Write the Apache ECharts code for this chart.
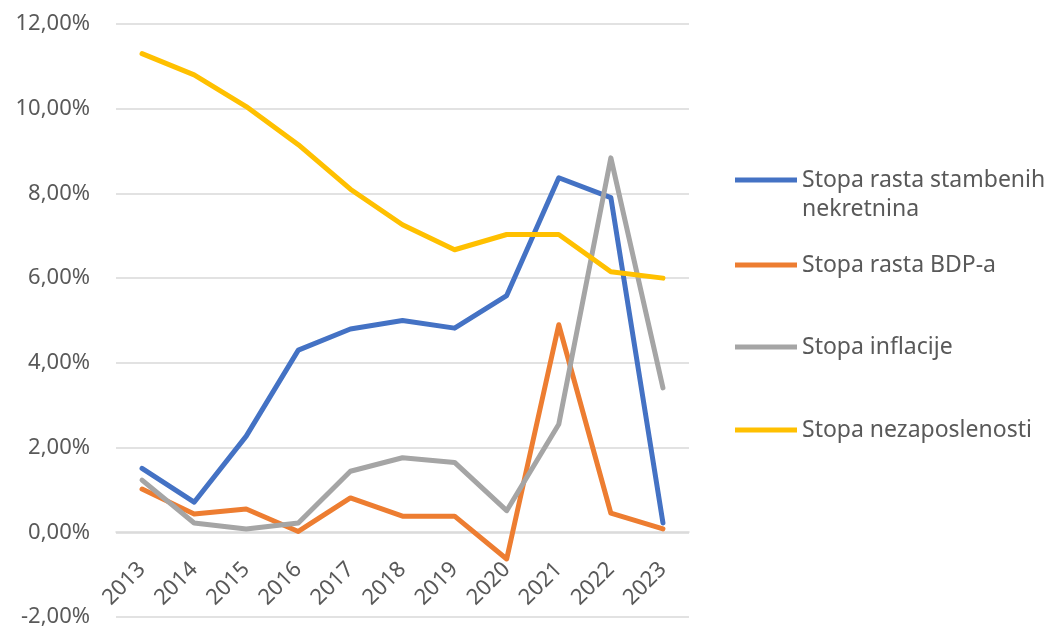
<!DOCTYPE html>
<html>
<head>
<meta charset="utf-8">
<script src="https://cdn.jsdelivr.net/npm/echarts@6/dist/echarts.min.js"></script>
<style>html,body{margin:0;padding:0;background:#fff;}#c{width:1054px;height:629px;}</style>
</head>
<body>
<div id="c"></div>
<script>
var years = ['2013','2014','2015','2016','2017','2018','2019','2020','2021','2022','2023'];
var stambene = [1.51, 0.71, 2.27, 4.30, 4.80, 5.00, 4.82, 5.59, 8.37, 7.90, 0.22];
var bdp = [1.02, 0.43, 0.55, 0.02, 0.81, 0.38, 0.38, -0.63, 4.90, 0.45, 0.08];
var inflacija = [1.23, 0.22, 0.08, 0.22, 1.44, 1.76, 1.65, 0.51, 2.55, 8.84, 3.41];
var nezaposlenost = [11.30, 10.80, 10.05, 9.15, 8.10, 7.26, 6.67, 7.03, 7.03, 6.15, 6.00];
var names = ['Stopa rasta stambenih nekretnina', 'Stopa rasta BDP-a', 'Stopa inflacije', 'Stopa nezaposlenosti'];
var legendLabels = ['Stopa rasta stambenih', 'Stopa rasta BDP-a', 'Stopa inflacije', 'Stopa nezaposlenosti'];
var colors = ['#4472C4', '#ED7D31', '#A5A5A5', '#FFC000'];

var FONT = 'Noto Sans';
var TXT = '#595959';
var chart = echarts.init(document.getElementById('c'));
var legendCenters = [180, 265, 347, 430];
var legends = names.map(function (n, i) {
  return {
    data: [n],
    left: 735,
    top: legendCenters[i] - 12,
    padding: 0,
    itemWidth: 62,
    itemHeight: 5,
    itemGap: 0,
    icon: 'rect',
    formatter: function () { return legendLabels[i]; },
    textStyle: { fontFamily: FONT, fontSize: 23, color: TXT, lineHeight: 24, padding: [0, 0, 0, 0] },
    selectedMode: false
  };
});
var allData = [stambene, bdp, inflacija, nezaposlenost];
chart.setOption({
  animation: false,
  color: colors,
  grid: { left: 116, right: 365, top: 24, bottom: 12, containLabel: false, outerBoundsMode: 'none' },
  legend: legends,
  graphic: [{
    type: 'text',
    left: 802,
    top: 198,
    style: { text: 'nekretnina', font: '23px "Noto Sans"', fill: TXT }
  }],
  xAxis: {
    type: 'category',
    data: years,
    boundaryGap: true,
    offset: -85,
    axisLine: { onZero: false, lineStyle: { color: '#D9D9D9', width: 1.5 } },
    axisTick: { show: false },
    axisLabel: { rotate: 45, margin: 34, fontFamily: FONT, fontSize: 22, color: TXT, interval: 0 }
  },
  yAxis: {
    type: 'value',
    min: -2, max: 12, interval: 2,
    axisLine: { show: false },
    axisTick: { show: false },
    splitLine: { lineStyle: { color: '#D9D9D9', width: 1.5 } },
    axisLabel: {
      margin: 26, fontFamily: FONT, fontSize: 22, color: TXT,
      formatter: function (v) { return v.toFixed(2).replace('.', ',') + '%'; }
    }
  },
  series: names.map(function (n, i) {
    return {
      name: n,
      type: 'line',
      data: allData[i],
      symbol: 'none',
      lineStyle: { width: 5, color: colors[i], cap: 'round', join: 'round' },
      itemStyle: { color: colors[i] }
    };
  })
});
</script>
</body>
</html>
